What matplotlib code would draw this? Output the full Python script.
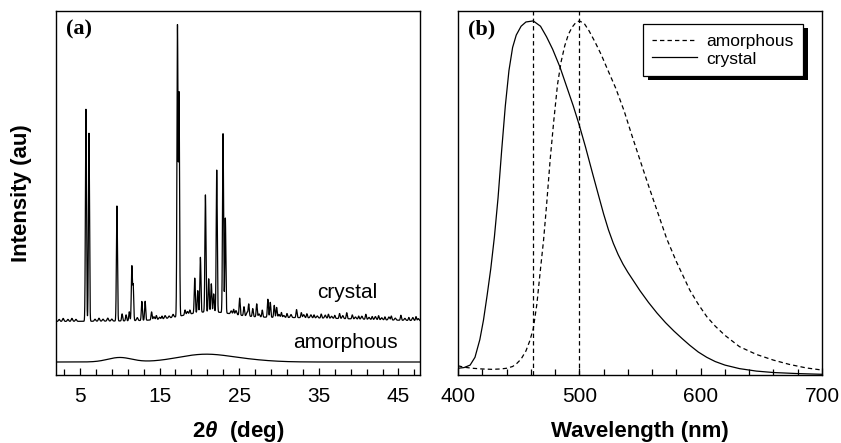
import numpy as np
import matplotlib
matplotlib.use("Agg")
import matplotlib.pyplot as plt
from matplotlib.ticker import FixedLocator, MultipleLocator
from matplotlib.patches import Rectangle
from matplotlib.transforms import IdentityTransform

plt.rcParams['font.family'] = ['Liberation Sans', 'DejaVu Sans']
plt.rcParams['mathtext.fontset'] = 'custom'
plt.rcParams['mathtext.it'] = 'Liberation Sans:italic:bold'
plt.rcParams['mathtext.rm'] = 'Liberation Sans:bold'

# ---------------- Panel (a): XRD data (peaks) ----------------
xrd_range = (2.0, 47.7)
# crystal: sharp reflections (2theta, height above baseline)
cryst_pos = [5.76, 6.14, 9.65, 10.3, 10.8, 11.2, 11.52, 11.69, 12.78, 13.19, 14.0,
             14.6, 15.3, 17.25, 17.45, 18.2, 18.8, 19.42, 19.8, 20.13, 20.76,
             21.17, 21.5, 21.8, 22.18, 22.97, 23.26, 24.3, 25.06, 25.6, 26.2,
             26.7, 27.2, 27.9, 28.6, 28.9, 29.4, 29.7, 30.3, 31.0, 32.2, 32.8,
             33.5, 34.4, 35.3, 36.2, 37.0, 37.6, 38.5, 39.2, 40.0, 40.9, 41.7,
             42.5, 43.3, 44.1, 45.3, 46.3, 47.2]
cryst_hgt = [212, 188, 115, 7, 6, 9, 54, 35, 19, 19, 8,
             4, 3, 290, 222, 5, 4, 35, 22, 55, 117,
             33, 28, 18, 142, 179, 95, 5, 17, 9, 12,
             8, 13, 7, 18, 15, 12, 10, 5, 4, 8, 5,
             4, 3, 4, 4, 3, 5, 6, 4, 3, 5, 3,
             4, 3, 4, 5, 3, 4]
# small noise-like wiggles of the crystal baseline
wig_pos = [2.4, 2.9, 3.5, 4.0, 4.5, 6.9, 7.4, 7.9, 8.5, 9.0, 12.2, 14.3, 15.0, 15.7,
           16.2, 16.7, 18.5, 24.0, 24.6, 26.0, 27.5, 30.0, 30.6, 31.5, 33.1, 34.0,
           34.8, 35.8, 36.6, 38.0, 39.6, 40.4, 41.3, 42.1, 42.9, 43.8, 44.6, 45.8,
           46.8, 47.5]
wig_hgt = [2, 3, 2, 3, 2, 2, 3, 2, 3, 2, 3, 3, 2, 3,
           2, 3, 3, 3, 4, 4, 3, 3, 2, 3, 3, 3,
           2, 3, 2, 3, 2, 3, 2, 3, 2, 3, 2, 2,
           3, 2]
cryst_base = 53.5
cryst_halo_pos = [21.0, 30.0]
cryst_halo_hgt = [7.0, 4.0]
cryst_halo_wid = [3.0, 10.0]

# amorphous: baseline plus broad halos
amor_base = 13.0
amor_halo_pos = [10.0, 20.6, 26.0]
amor_halo_hgt = [4.5, 7.5, 1.5]
amor_halo_wid = [1.5, 3.3, 3.0]

# ---------------- Panel (b): PL spectra ----------------
pl_cryst_nm = [400, 405, 410, 414, 418, 421, 424, 427, 430, 433, 436, 439, 442,
               445, 448, 452, 456, 462, 468, 473, 478, 484, 490, 495, 500, 505,
               511, 516, 520, 524, 528, 532, 536, 540, 545, 550, 557, 564, 571,
               578, 585, 591, 598, 605, 612, 620, 632, 646, 660, 680, 700]
pl_cryst_I = [0.019, 0.021, 0.028, 0.05, 0.10, 0.155, 0.225, 0.30, 0.39, 0.50,
              0.635, 0.76, 0.86, 0.925, 0.96, 0.985, 0.997, 1.0, 0.985, 0.955,
              0.92, 0.87, 0.81, 0.76, 0.705, 0.645, 0.568, 0.505, 0.455, 0.41,
              0.372, 0.34, 0.313, 0.29, 0.264, 0.238, 0.205, 0.175, 0.148, 0.124,
              0.102, 0.084, 0.065, 0.050, 0.038, 0.028, 0.018, 0.011, 0.007,
              0.004, 0.002]
pl_amor_nm = [400, 405, 412, 420, 428, 435, 440, 445, 448, 452, 456, 459, 462, 465,
              468, 470.5, 473, 476, 479, 482, 485, 488, 491, 494, 497, 500, 504,
              508, 513, 518, 523, 530, 537, 543, 550, 557, 564, 572, 580, 591,
              598, 605, 612, 620, 632, 646, 660, 673, 687, 700]
pl_amor_I = [0.026, 0.022, 0.019, 0.017, 0.016, 0.017, 0.019, 0.024, 0.031, 0.045,
             0.068, 0.095, 0.13, 0.20, 0.30, 0.38, 0.48, 0.61, 0.72, 0.82, 0.885,
             0.93, 0.962, 0.982, 0.995, 1.0, 0.993, 0.972, 0.94, 0.905, 0.865,
             0.81, 0.745, 0.68, 0.607, 0.535, 0.465, 0.385, 0.32, 0.24, 0.20,
             0.165, 0.138, 0.112, 0.08, 0.058, 0.042, 0.030, 0.020, 0.014]
peak_lines = [462, 500]

# ---------------- build XRD traces ----------------
tt = np.linspace(2.0, 47.7, 4571)


def gsum(x, pos, hgt, wid):
    out = np.zeros_like(x)
    for p, h, w in zip(pos, hgt, wid):
        out += h * np.exp(-0.5 * ((x - p) / w) ** 2)
    return out


cryst = (cryst_base
         + gsum(tt, cryst_halo_pos, cryst_halo_hgt, cryst_halo_wid)
         + gsum(tt, cryst_pos, cryst_hgt, [0.065] * len(cryst_pos))
         + gsum(tt, wig_pos, wig_hgt, [0.09] * len(wig_pos)))
amor = amor_base + gsum(tt, amor_halo_pos, amor_halo_hgt, amor_halo_wid)

# ---------------- figure ----------------
fig = plt.figure(figsize=(8.41, 4.43), dpi=100)
axa = fig.add_axes([56 / 841, 68 / 443, 364 / 841, 364 / 443])
axb = fig.add_axes([458 / 841, 68 / 443, 364 / 841, 364 / 443])

axa.plot(tt, cryst, color='black', lw=0.9)
axa.plot(tt, amor, color='black', lw=0.9)
axa.set_xlim(*xrd_range)
axa.set_ylim(0, 364)
axa.xaxis.set_major_locator(FixedLocator([5, 15, 25, 35, 45]))
axa.xaxis.set_minor_locator(FixedLocator(list(range(3, 48, 2))))
axa.text(38.6, 83, 'crystal', fontsize=15, ha='center', va='center')
axa.text(38.3, 32, 'amorphous', fontsize=15, ha='center', va='center')
axa.text(0.027, 0.978, '(a)', transform=axa.transAxes, fontsize=16,
         fontweight='bold', family=['Liberation Serif', 'DejaVu Serif'],
         ha='left', va='top')
axa.set_xlabel('2$\\mathit{\\theta}$  (deg)', fontsize=16, fontweight='bold')
axa.xaxis.label.set_va('baseline')
axa.xaxis.set_label_coords(0.5, -(437.5 - 375) / 364)
axa.set_ylabel('Intensity (au)', fontsize=16, fontweight='bold')
axa.yaxis.label.set_va('center')
axa.yaxis.set_label_coords(-(56 - 22) / 364, 0.5)

axb.plot(pl_amor_nm, pl_amor_I, color='black', lw=0.9, ls=(0, (3.5, 2.5)),
         label='amorphous')
axb.plot(pl_cryst_nm, pl_cryst_I, color='black', lw=0.9, label='crystal')
for v in peak_lines:
    axb.axvline(v, color='black', lw=0.9, ls=(0, (3.5, 2.5)))
axb.set_xlim(400, 700)
axb.set_ylim(0, 1.028)
axb.xaxis.set_major_locator(MultipleLocator(100))
axb.xaxis.set_minor_locator(MultipleLocator(20))
axb.text(0.027, 0.978, '(b)', transform=axb.transAxes, fontsize=16,
         fontweight='bold', family=['Liberation Serif', 'DejaVu Serif'],
         ha='left', va='top')
axb.set_xlabel('Wavelength (nm)', fontsize=16, fontweight='bold')
axb.xaxis.label.set_va('baseline')
axb.xaxis.set_label_coords(0.5, -(437.5 - 375) / 364)
leg = axb.legend(loc='upper right', bbox_to_anchor=(0.948, 0.964),
                 borderaxespad=0, fontsize=12.5, handlelength=2.6,
                 handletextpad=0.5, labelspacing=0.15, borderpad=0.55,
                 fancybox=False, edgecolor='black', framealpha=1)
leg.get_frame().set_linewidth(0.9)

for ax in (axa, axb):
    ax.set_yticks([])
    ax.tick_params(axis='x', which='both', direction='in', top=False,
                   labelsize=15, pad=9, width=0.9)
    ax.tick_params(axis='x', which='major', length=5)
    ax.tick_params(axis='x', which='minor', length=4)
    for s in ax.spines.values():
        s.set_linewidth(1.0)

# solid black drop shadow behind the legend box
fig.canvas.draw()
bb = leg.get_window_extent()
axb.add_patch(Rectangle((bb.x0 + 5, bb.y0 - 4), bb.width, bb.height,
                        transform=IdentityTransform(), clip_on=False,
                        facecolor='black', edgecolor='none', zorder=4.9))

fig.savefig('out.png', dpi=100)
